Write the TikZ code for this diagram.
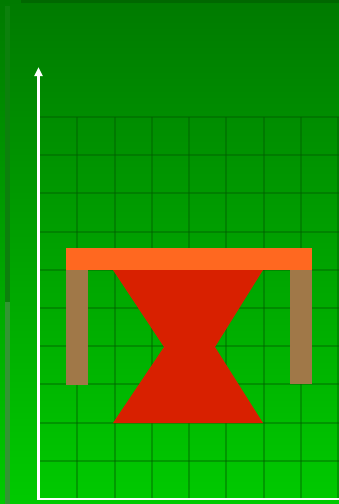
\documentclass[tikz,border=0pt]{standalone}
\usetikzlibrary{arrows.meta}
\definecolor{bgtop}{RGB}{0,122,0}
\definecolor{bgbot}{RGB}{0,202,0}
\definecolor{gridc}{RGB}{0,90,0}
\definecolor{tabletop}{RGB}{255,104,32}
\definecolor{legc}{RGB}{160,120,72}
\definecolor{hourc}{RGB}{216,32,0}
\definecolor{stripa}{RGB}{12,128,12}
\definecolor{stripb}{RGB}{50,150,50}
\tikzset{
  gridline/.style={draw=gridc, line width=2pt, opacity=0.4},
  axisline/.style={draw=white, line width=2.5pt},
}
\begin{document}
\begin{tikzpicture}[x=1pt,y=-1pt]
\useasboundingbox (0,0) rectangle (339,504);
\shade[top color=bgtop, bottom color=bgbot] (0,0) rectangle (339,504);
% decorations of the template
\fill[black, opacity=0.15] (21,0) rectangle (339,2.5);
\fill[stripa] (5,6) rectangle (9.5,302);
\fill[stripb] (5,302) rectangle (9.5,504);
% grid
\foreach \x in {77.25,114.5,151.75,189,226.25,263.5,300.75,338}
  \draw[gridline] (\x,117) -- (\x,499);
\foreach \y in {117,155.2,193.4,231.6,269.8,308,346.2,384.4,422.6,460.8}
  \draw[gridline] (40,\y) -- (339,\y);
% table
\fill[tabletop] (66,248) rectangle (312,270);
\fill[legc] (66,270) rectangle (88,385);
\fill[legc] (290,270) rectangle (312,384);
% hourglass
\fill[hourc] (113,270) -- (263,270) -- (215,347) -- (263,423) -- (113,423) -- (164,347) -- cycle;
% axes
\coordinate (o) at (38.5,499);
\coordinate (ytop) at (38.5,67);
\coordinate (xend) at (339,499);
\draw[axisline, -{Triangle[width=8pt,length=9pt]}] (o) -- (ytop);
\draw[axisline] ([xshift=-1.25pt]o) -- (xend);
\end{tikzpicture}
\end{document}
